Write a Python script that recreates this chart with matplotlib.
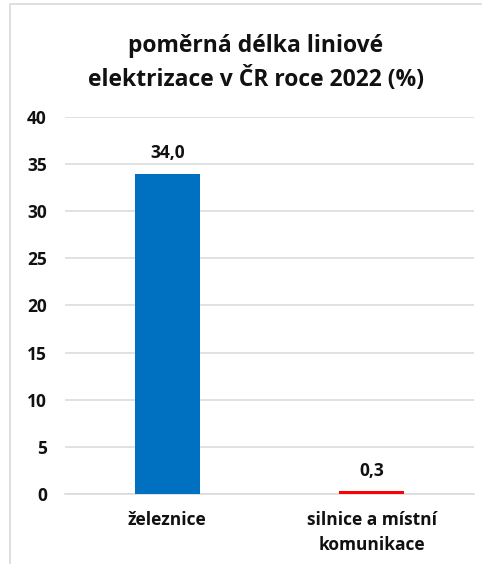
import matplotlib
matplotlib.use('Agg')
import matplotlib.pyplot as plt
from matplotlib.patches import Rectangle

# relative length of line electrification in CZ, 2022 (%)
categories = ['železnice', 'silnice a místní\nkomunikace']
values = [34.0, 0.3]
bar_colors = ['#0070C0', '#FF0000']
yticks = [0, 5, 10, 15, 20, 25, 30, 35, 40]

plt.rcParams['font.family'] = ['Open Sans', 'DejaVu Sans']
plt.rcParams['font.weight'] = 'bold'

fig = plt.figure(figsize=(4.82, 5.64), dpi=100)
ax = fig.add_axes([65 / 482, 70 / 564, 409 / 482, 377 / 564])

x = range(len(categories))
bars = ax.bar(x, values, width=0.32, color=bar_colors, zorder=3)

for b, v in zip(bars, values):
    ax.annotate(f'{v:.1f}'.replace('.', ','), (b.get_x() + b.get_width() / 2, v),
                xytext=(0, 8), textcoords='offset points',
                ha='center', va='bottom', fontsize=12.5, fontweight='bold',
                color='#111111')

ax.set_xlim(-0.5, len(categories) - 0.5)
ax.set_ylim(0, 40)
ax.set_yticks(yticks)
ax.set_yticklabels([str(t) for t in yticks])
ax.set_xticks(list(x))
ax.set_xticklabels(categories, linespacing=1.5)

ax.grid(axis='y', color='#D9D9D9', linewidth=1.1, zorder=0)
for s in ['top', 'right', 'left']:
    ax.spines[s].set_visible(False)
ax.spines['bottom'].set_color('#D9D9D9')
ax.spines['bottom'].set_linewidth(1.1)
ax.tick_params(axis='both', length=0, labelsize=12.5, colors='#111111')
ax.tick_params(axis='y', pad=13)
ax.tick_params(axis='x', pad=12)
for lbl in ax.get_xticklabels() + ax.get_yticklabels():
    lbl.set_fontweight('bold')

fig.text(256 / 482, 0.888, 'poměrná délka liniové\nelektrizace v ČR roce 2022 (%)',
         ha='center', va='center', fontsize=16.5, fontweight='bold',
         linespacing=1.45, color='#111111')

# chart area frame
fig.patches.append(Rectangle((10 / 482, -0.01), 1.0, 1.0 - 3.5 / 564 + 0.01,
                             transform=fig.transFigure, fill=False,
                             edgecolor='#D9D9D9', linewidth=1.2))

fig.savefig('out.png', dpi=100)
